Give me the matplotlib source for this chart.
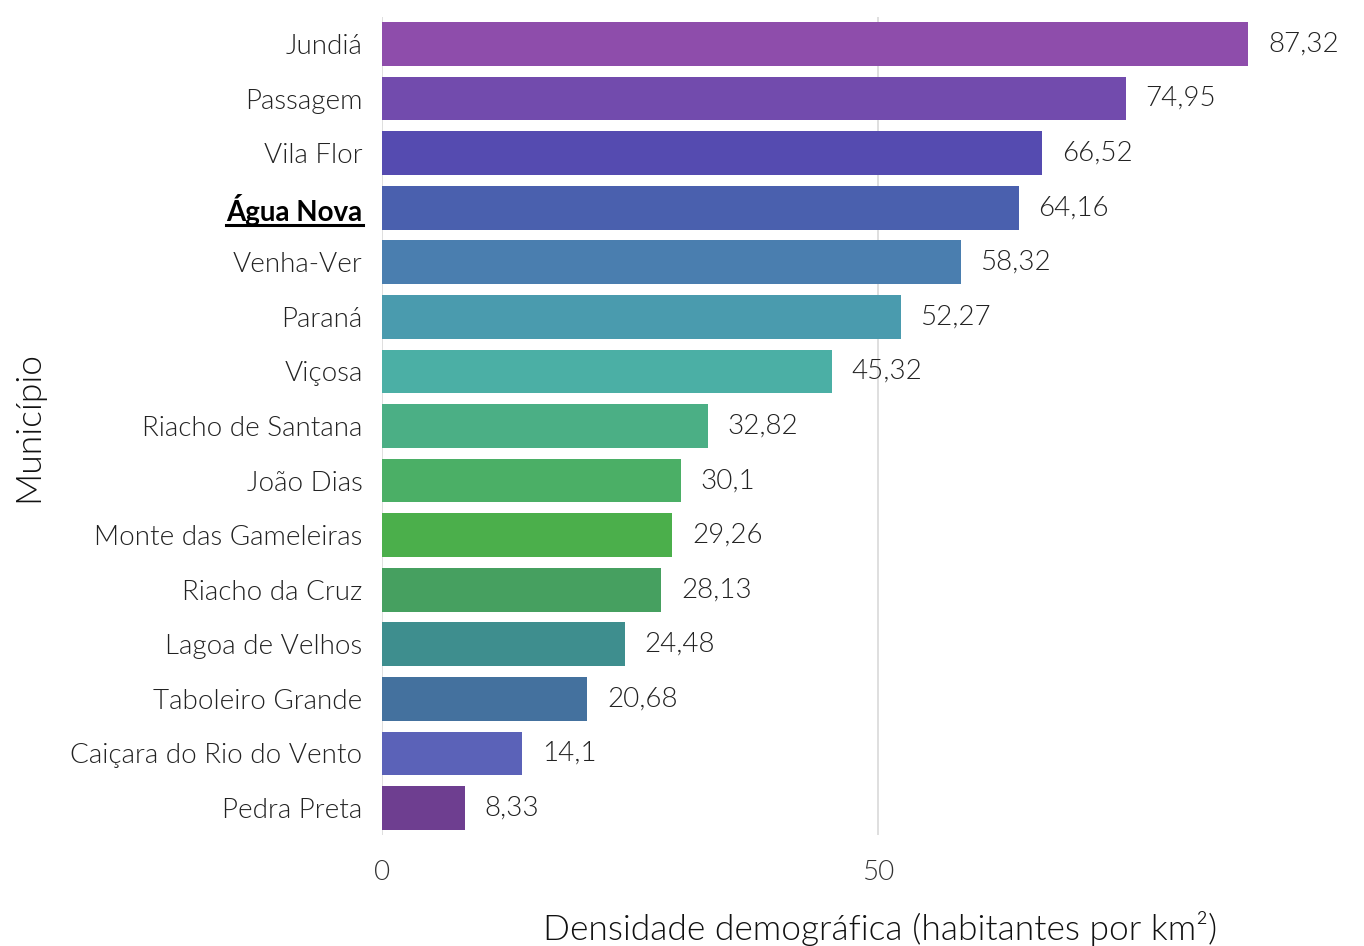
import matplotlib
matplotlib.use("Agg")
import matplotlib.pyplot as plt
from matplotlib.lines import Line2D

plt.rcParams['font.family'] = ['Lato', 'DejaVu Sans']
plt.rcParams['font.weight'] = 300
plt.rcParams['axes.labelweight'] = 300

municipios = ["Jundiá", "Passagem", "Vila Flor", "Água Nova", "Venha-Ver", "Paraná",
              "Viçosa", "Riacho de Santana", "João Dias", "Monte das Gameleiras",
              "Riacho da Cruz", "Lagoa de Velhos", "Taboleiro Grande",
              "Caiçara do Rio do Vento", "Pedra Preta"]
densidade = [87.32, 74.95, 66.52, 64.16, 58.32, 52.27, 45.32, 32.82, 30.1, 29.26,
             28.13, 24.48, 20.68, 14.1, 8.33]
rotulos = ["87,32", "74,95", "66,52", "64,16", "58,32", "52,27", "45,32", "32,82",
           "30,1", "29,26", "28,13", "24,48", "20,68", "14,1", "8,33"]
cores = ["#8E4DAB", "#724BAD", "#554BB0", "#4A60AE", "#4A7EAF", "#4A9BAE", "#4BAFA5",
         "#4BAF85", "#4BAF66", "#4BAF4B", "#46A060", "#3E8E8E", "#44719E", "#5B62B8",
         "#6E3E90"]
destaque = "Água Nova"

fig = plt.figure(figsize=(13.64, 9.46), dpi=100)
ax = fig.add_axes([382/1364, 1 - 835.3/946, (1275-382)/1364, 818.6/946])

n = len(municipios)
pos = [n - 1 - i for i in range(n)]
ax.barh(pos, densidade, height=0.8, color=cores, zorder=2)
for p, v, r in zip(pos, densidade, rotulos):
    ax.text(v + 2.0, p, r, va='center', ha='left', fontsize=20, color='#222222',
            fontweight=300, clip_on=False, zorder=3)

ax.set_xlim(0, 90)
ax.set_ylim(-0.5, 14.5)
ax.set_xticks([0, 50])
ax.set_xticklabels(["0", "50"], fontsize=20, color='#333333', fontweight=300)
ax.set_yticks(pos)
ax.set_yticklabels(municipios, fontsize=20, color='#222222', fontweight=300)
ax.tick_params(length=0)
ax.tick_params(axis='y', pad=14)
ax.tick_params(axis='x', pad=18)
ax.grid(axis='x', color='#D9D9D9', linewidth=1.2, zorder=0)
for s in ax.spines.values():
    s.set_visible(False)

for lab in ax.get_yticklabels():
    if lab.get_text() == destaque:
        lab.set_fontweight('bold')
        lab.set_color('black')

ax.set_xlabel("Densidade demográfica (habitantes por km²)", fontsize=25.5,
              fontweight=300, color='#111111')
ax.xaxis.set_label_coords(0.558, -0.092)
ax.set_ylabel("Município", fontsize=25.5, fontweight=300, color='#111111')
ax.yaxis.set_label_coords(-0.378, 0.5)

fig.canvas.draw()
for lab in ax.get_yticklabels():
    if lab.get_text() == destaque:
        bb = lab.get_window_extent()
        y0 = bb.y0 + 1
        fig.add_artist(Line2D([bb.x0 / 1364, bb.x1 / 1364], [y0 / 946, y0 / 946],
                              color='black', linewidth=2.2,
                              transform=fig.transFigure))

fig.savefig("out.png", dpi=100)
